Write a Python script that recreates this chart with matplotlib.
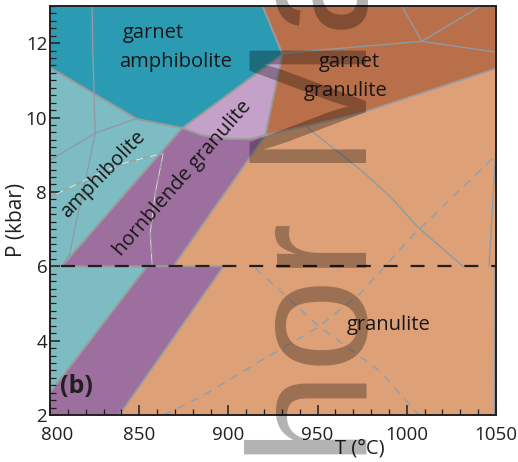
import matplotlib.pyplot as plt
from matplotlib.ticker import MultipleLocator
from matplotlib.transforms import ScaledTranslation

plt.rcParams['font.family'] = ['Open Sans', 'DejaVu Sans']

# field outlines (T in degC, P in kbar)
garnet_amph_T = [800, 824.2, 848.9, 874.2, 930.3, 919.1, 800]
garnet_amph_P = [11.35, 10.66, 9.96, 9.72, 11.70, 13.0, 13.0]

amph_hi_T = [800, 806.7, 874.2, 848.9, 824.2, 800]
amph_hi_P = [6.0, 6.0, 9.72, 9.96, 10.66, 11.35]
amph_lo_T = [800, 854.5, 800]
amph_lo_P = [2.6, 6.0, 6.0]

hbl_hi_T = [806.7, 869.1, 920.8, 913, 905, 894, 885, 874.2]
hbl_hi_P = [6.0, 6.0, 9.53, 9.43, 9.42, 9.45, 9.53, 9.72]
hbl_lo_T = [800, 838.8, 897.2, 854.5, 800]
hbl_lo_P = [2.0, 2.0, 6.0, 6.0, 2.6]

gt_hbl_T = [874.2, 885, 894, 905, 913, 920.8, 930.3]
gt_hbl_P = [9.72, 9.53, 9.45, 9.42, 9.43, 9.53, 11.70]

gt_gran_T = [919.1, 1050, 1050, 974.2, 946.1, 920.8, 930.3]
gt_gran_P = [13.0, 13.0, 11.32, 10.12, 9.80, 9.53, 11.70]

# reaction lines
rx1_T = [823.6, 824.0, 824.7, 825.3, 822.0, 818.5, 815.2, 811.2, 806.7]
rx1_P = [13.0, 11.8, 10.66, 9.58, 8.8, 7.97, 7.32, 6.35, 6.0]
rx2_T = [800, 825.3, 848.9]
rx2_P = [8.85, 9.58, 9.98]
rx3_T = [930.9, 1008.4, 1050]
rx3_P = [11.73, 12.05, 11.76]
rx4_T = [997.2, 1008.4, 1041.6]
rx4_P = [13.0, 12.05, 13.0]
rx5_T = [943.5, 946.1, 974.2, 991.0, 1006.7, 1031.5]
rx5_P = [9.78, 9.66, 8.59, 7.86, 7.03, 6.0]
rx6_T = [1050, 1046.1]
rx6_P = [9.2, 6.0]
rx7_T = [1049.5, 1049.2]
rx7_P = [6.0, 2.0]

# dashed lines
dash1_T = [800, 819.7, 841.0, 863.5, 859.0, 856.2, 857.3]
dash1_P = [7.86, 8.32, 8.77, 9.04, 7.97, 6.89, 6.0]
dash2_T = [863.5, 884.3, 916.9, 950.6, 974.2, 1002.8, 1048.9]
dash2_P = [2.0, 2.48, 3.42, 4.37, 5.28, 6.80, 8.94]
dash3_T = [915.2, 950.6, 985.4, 1006.7]
dash3_P = [5.95, 4.39, 3.16, 2.0]

fig = plt.figure(figsize=(5.18, 4.62), dpi=100)
ax = fig.add_axes([0.0965, 0.1017, 0.861, 0.8853])
ax.set_facecolor('#dea077')

edge = '#9b9b9b'
fields = [
    (amph_hi_T, amph_hi_P, '#7dbcc3'),
    (amph_lo_T, amph_lo_P, '#7dbcc3'),
    (hbl_hi_T, hbl_hi_P, '#9c6f9f'),
    (hbl_lo_T, hbl_lo_P, '#9c6f9f'),
    (gt_hbl_T, gt_hbl_P, '#c3a1c8'),
    (gt_gran_T, gt_gran_P, '#b96f49'),
    (garnet_amph_T, garnet_amph_P, '#2a9bb3'),
]
for T, P, c in fields:
    ax.fill(T, P, facecolor=c, edgecolor=edge, lw=1.3, zorder=1)

line_c = '#8e9ba6'
for T, P in [(rx1_T, rx1_P), (rx2_T, rx2_P), (rx3_T, rx3_P), (rx4_T, rx4_P),
             (rx5_T, rx5_P), (rx6_T, rx6_P), (rx7_T, rx7_P)]:
    ax.plot(T, P, color=line_c, lw=1.0, zorder=2)

ax.plot(dash1_T, dash1_P, color='white', lw=0.6, alpha=0.8, zorder=2)
ax.plot(dash1_T, dash1_P, color='#a0a0a0', lw=1.3, ls=(0, (4, 4)), zorder=2)
ax.plot(dash2_T, dash2_P, color='#8aa0b4', lw=1.0, ls=(0, (6, 5)), zorder=2)
ax.plot(dash3_T, dash3_P, color='#8aa0b4', lw=1.0, ls=(0, (6, 5)), zorder=2)

ax.axhline(6, xmin=0.025, color='#231f20', lw=1.6, ls=(0, (6.3, 5.8)), zorder=3)

txt = dict(fontsize=14.5, color='#1a1718', ha='center', va='center', zorder=4)
ax.text(857.9, 12.27, 'garnet', **txt)
ax.text(870.2, 11.49, 'amphibolite', **txt)
ax.text(968.0, 11.49, 'garnet', **txt)
ax.text(965.7, 10.71, 'granulite', **txt)
ax.text(989.9, 4.42, 'granulite', **txt)
ax.text(829.8, 8.48, 'amphibolite', rotation=46, **txt)
ax.text(874.2, 8.37, 'hornblende granulite', rotation=49, **txt)
ax.text(815, 2.78, '(b)', fontsize=18, fontweight='bold', color='#231f20',
        ha='center', va='center', zorder=4)

ax.set_xlim(800, 1050)
ax.set_ylim(2, 13)
ax.set_xticks([800, 850, 900, 950, 1000, 1050])
ax.set_yticks([2, 4, 6, 8, 10, 12])
ax.xaxis.set_minor_locator(MultipleLocator(10))
ax.yaxis.set_minor_locator(MultipleLocator(0.2))
ax.tick_params(which='both', direction='in', top=False, right=False,
               color='#231f20', labelcolor='#231f20', labelsize=13.5)
ax.tick_params(which='major', length=7, width=1.1)
ax.tick_params(which='minor', length=4, width=0.9)
ax.tick_params(axis='x', pad=8)
ax.tick_params(axis='y', pad=2)
for s in ax.spines.values():
    s.set_color('#231f20')
    s.set_linewidth(1.4)
    s.set_zorder(5)

lab = ax.get_xticklabels()[0]
lab.set_transform(lab.get_transform() + ScaledTranslation(0.07, 0, fig.dpi_scale_trans))

ax.set_xlabel('T (°C)', fontsize=14.5, color='#231f20')
ax.xaxis.set_label_coords(0.695, -0.058)
ax.set_ylabel('P (kbar)', fontsize=15, color='#231f20')
ax.yaxis.set_label_coords(-0.052, 0.477)

# watermark across the figure
fig.text(367 / 518, 1 - 717 / 462, 'Author Manuscript', rotation=90,
         rotation_mode='anchor', ha='left', va='baseline', fontsize=121,
         family='Liberation Sans', color='black', alpha=0.3, zorder=10)

fig.savefig('out.png', dpi=100)
